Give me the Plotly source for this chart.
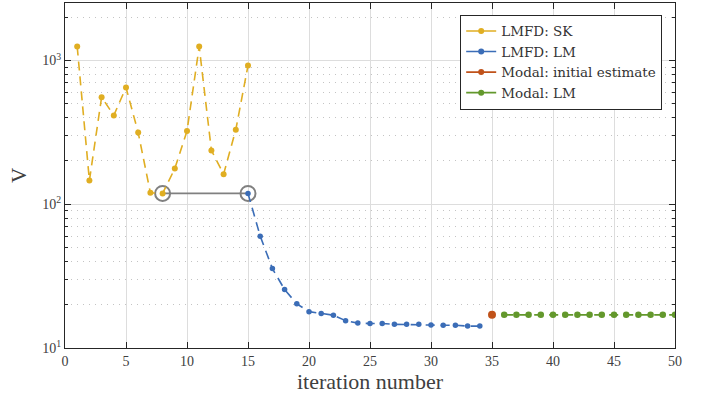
import plotly.graph_objects as go

# ---- data ----
sk_iter = list(range(1, 16))
sk_vals = [1250, 146, 556, 415, 649, 315, 120, 119, 177, 323, 1250, 237, 162, 330, 922]

lm_iter = list(range(15, 35))
lm_vals = [119, 60, 35.7, 25.5, 20.3, 17.9, 17.4, 16.9, 15.5, 14.9, 14.8, 14.8,
           14.6, 14.6, 14.6, 14.45, 14.4, 14.4, 14.2, 14.2]

modal_init_iter = [35]
modal_init_vals = [17.0]

modal_lm_iter = list(range(36, 51))
modal_lm_vals = [17.0] * 15

link_iter = [8, 15]
link_vals = [119, 119]

series_names = ["LMFD: SK", "LMFD: LM", "Modal: initial estimate", "Modal: LM"]
colors = ["#E0AE22", "#3B6DB7", "#C0521A", "#63982C"]

major_ticks = [10, 100, 1000]
major_text = ["10<sup>1</sup>", "10<sup>2</sup>", "10<sup>3</sup>"]
minor_ticks = [m * d for d in (10, 100, 1000) for m in range(2, 10) if m * d <= 2500]

FONT = "Liberation Serif"
LEG_FONT = "DejaVu Serif"
DASH = "9px,6px"

fig = go.Figure()

# link between best SK and LM start
fig.add_trace(go.Scatter(
    x=link_iter, y=link_vals, mode="lines+markers", showlegend=False,
    line=dict(color="#808080", width=1.6),
    marker=dict(symbol="circle-open", size=15, color="#808080", line=dict(width=2)),
))

data_sets = [(sk_iter, sk_vals), (lm_iter, lm_vals),
             (modal_init_iter, modal_init_vals), (modal_lm_iter, modal_lm_vals)]
msizes = [6, 5.5, 8, 6.5]
for (xs, ys), name, c, ms in zip(data_sets, series_names, colors, msizes):
    fig.add_trace(go.Scatter(
        x=xs, y=ys, mode="lines+markers", showlegend=False, name=name,
        line=dict(color=c, width=1.6, dash=DASH),
        marker=dict(symbol="circle", size=ms, color=c),
    ))

# legend entries (solid line style as in reference)
for name, c, ms in zip(series_names, colors, msizes):
    fig.add_trace(go.Scatter(
        x=[None], y=[None], mode="lines+markers", name=name,
        line=dict(color=c, width=1.6),
        marker=dict(symbol="circle", size=6, color=c),
    ))

axis_common = dict(
    showline=True, linecolor="#262626", linewidth=1.2, mirror="ticks",
    ticks="inside", tickcolor="#262626", ticklen=6,
    gridcolor="#DDDDDD", gridwidth=1, zeroline=False,
    tickfont=dict(family=FONT, size=14, color="#404040"),
)

fig.update_xaxes(
    range=[0, 50], tickmode="array", tickvals=list(range(0, 51, 5)),
    title=dict(text="iteration number", font=dict(family=FONT, size=22, color="#404040"),
               standoff=4),
    **axis_common,
)
fig.update_yaxes(
    type="log", range=[1, 3.4], tickmode="array", tickvals=major_ticks, ticktext=major_text,
    title=dict(text="V", font=dict(family=FONT, size=21, color="#404040"), standoff=9),
    minor=dict(tickmode="array", tickvals=minor_ticks, ticks="inside", ticklen=3,
               tickcolor="#262626", showgrid=True, gridcolor="#C4C4C4", griddash="1px,5px",
               gridwidth=1),
    **axis_common,
)

fig.update_layout(
    width=702, height=396,
    margin=dict(l=65, r=27, t=3, b=48),
    plot_bgcolor="white", paper_bgcolor="white",
    font=dict(family=FONT, color="#262626"),
    legend=dict(
        x=0.979, y=0.966, xanchor="right", yanchor="top",
        bgcolor="white", bordercolor="#262626", borderwidth=1,
        font=dict(family=LEG_FONT, size=13.5, color="#333333"),
        tracegroupgap=0, itemwidth=30,
    ),
)

fig.write_html("out.html")
